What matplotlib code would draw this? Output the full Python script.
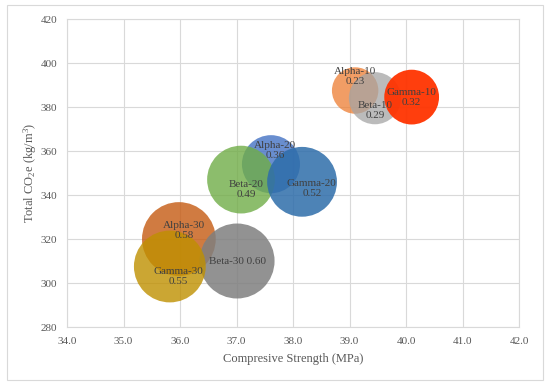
import matplotlib
matplotlib.use("Agg")
import matplotlib.pyplot as plt
from matplotlib.patches import Rectangle
import numpy as np

plt.rcParams['font.family'] = ['Liberation Serif', 'DejaVu Serif']
plt.rcParams['mathtext.fontset'] = 'custom'
plt.rcParams['mathtext.rm'] = 'Liberation Serif'
plt.rcParams['mathtext.it'] = 'Liberation Serif:italic'

names = ["Alpha-10", "Beta-10", "Gamma-10",
         "Alpha-20", "Beta-20", "Gamma-20",
         "Alpha-30", "Beta-30", "Gamma-30"]
strength = [39.10, 39.45, 40.10, 37.61, 37.08, 38.16, 35.98, 37.01, 35.82]
co2 = [387.5, 384.0, 384.5, 354.0, 347.0, 346.0, 320.0, 310.0, 307.5]
bubble = [0.23, 0.29, 0.32, 0.36, 0.49, 0.52, 0.58, 0.60, 0.55]
labels = ["Alpha-10\n0.23", "Beta-10\n0.29", "Gamma-10\n0.32",
          "Alpha-20\n0.36", "Beta-20\n0.49", "Gamma-20\n0.52",
          "Alpha-30\n0.58", "Beta-30 0.60", "Gamma-30\n0.55"]
colors = ["#ED7D31", "#A5A5A5", "#FF3300",
          "#4472C4", "#70AD47", "#2E6DAA",
          "#C55A11", "#7F7F7F", "#BF9000"]
alphas = [0.75, 0.75, 0.95, 0.8, 0.8, 0.85, 0.8, 0.85, 0.8]
label_off = [(0, 10), (0, -9), (0, 0), (3, 10), (4, -7), (7, -5), (4, 6), (0, 0), (6, -7)]

xticks = [34.0, 35.0, 36.0, 37.0, 38.0, 39.0, 40.0, 41.0, 42.0]
yticks = [280, 300, 320, 340, 360, 380, 400, 420]

fig = plt.figure(figsize=(5.5, 3.87), dpi=100)
fig.patches.append(Rectangle((7/550, 1-380/387), 536/550, 375/387, transform=fig.transFigure,
                             fill=False, edgecolor="#D9D9D9", linewidth=0.8))
ax = fig.add_axes([67/550, 1-327/387, 452/550, 308/387])

scale = 4858
for i in range(len(names)):
    ax.scatter(strength[i], co2[i], s=scale*bubble[i], color=colors[i], alpha=alphas[i],
               edgecolors='none', zorder=3)
for i in range(len(names)):
    ax.annotate(labels[i], (strength[i], co2[i]), xytext=label_off[i], textcoords='offset points',
                ha='center', va='center', fontsize=8, color="#404040", zorder=5,
                linespacing=1.15)

ax.set_xlim(34, 42)
ax.set_ylim(280, 420)
ax.set_xticks(xticks)
ax.set_xticklabels([f"{v:.1f}" for v in xticks])
ax.set_yticks(yticks)
ax.set_yticklabels([str(v) for v in yticks])
ax.grid(True, color="#D9D9D9", linewidth=0.8, zorder=0)
ax.set_axisbelow(True)
for s in ax.spines.values():
    s.set_color("#D9D9D9")
    s.set_linewidth(0.8)
ax.tick_params(length=0, labelsize=8, colors="#595959", pad=7)
ax.set_xlabel("Compresive Strength (MPa)", fontsize=9, color="#595959", labelpad=5)
ax.set_ylabel(r"Total CO$_2$e (kg/m$^3$)", fontsize=9, color="#595959", labelpad=1)

fig.savefig("out.png", dpi=100)
